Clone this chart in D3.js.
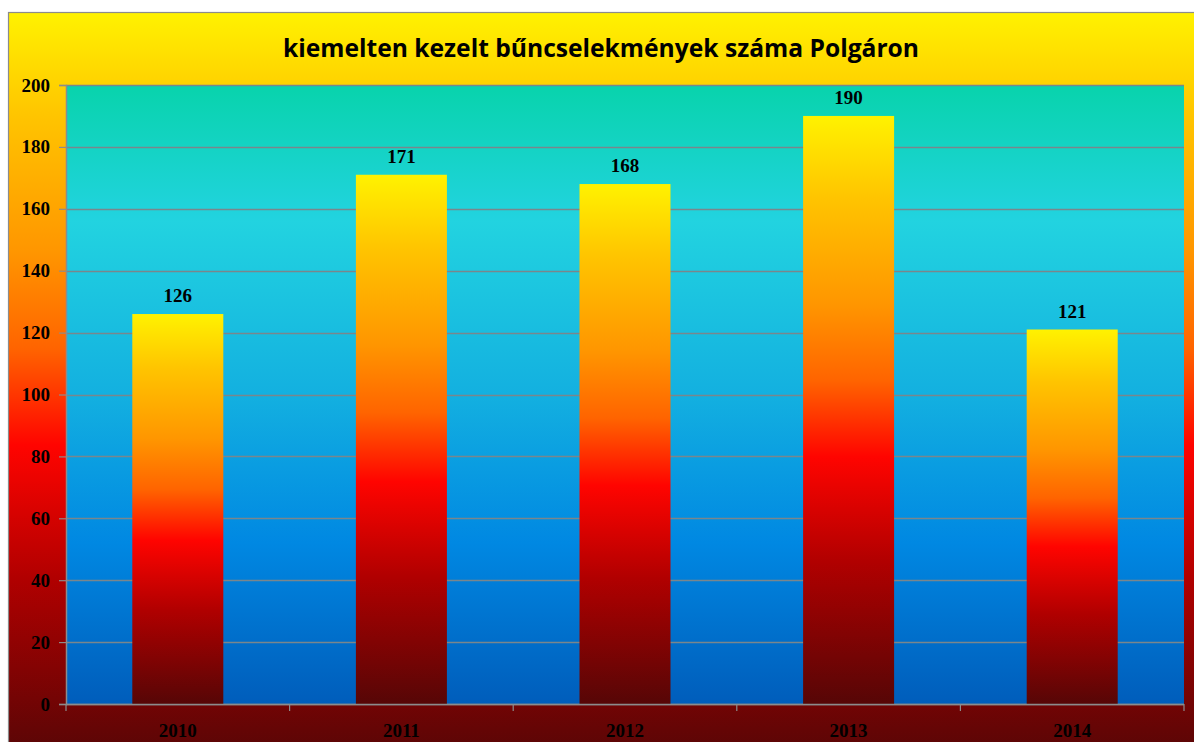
<!DOCTYPE html>
<html>
<head>
<meta charset="utf-8">
<script src="https://cdn.jsdelivr.net/npm/d3@7"></script>
<style>
  body { margin: 0; background: #fff; }
  svg { display: block; }
</style>
</head>
<body>
<div id="chart"></div>
<script>
const years = ["2010", "2011", "2012", "2013", "2014"];
const counts = [126, 171, 168, 190, 121];
const yTicks = [0, 20, 40, 60, 80, 100, 120, 140, 160, 180, 200];
const title = "kiemelten kezelt bűncselekmények száma Polgáron";

const W = 1194, H = 742;
const plot = { left: 66, top: 85, right: 1184, bottom: 704 };
const serif = "'Liberation Serif', 'Times New Roman', serif";

const svg = d3.select("#chart").append("svg")
  .attr("width", W)
  .attr("height", H);

const defs = svg.append("defs");

// fire gradient, used by the chart area and the bars
function fireGradient(id) {
  const g = defs.append("linearGradient")
    .attr("id", id)
    .attr("x1", 0).attr("y1", 0).attr("x2", 0).attr("y2", 1);
  [[0, "#FFF200"], [0.14, "#FFC400"], [0.32, "#FF9600"], [0.45, "#FF6400"],
   [0.58, "#FF0400"], [0.76, "#B00000"], [1, "#560606"]]
    .forEach(s => g.append("stop").attr("offset", s[0]).attr("stop-color", s[1]));
}
fireGradient("fireOuter");
fireGradient("fireBar");

const water = defs.append("linearGradient")
  .attr("id", "water")
  .attr("x1", 0).attr("y1", 0).attr("x2", 0).attr("y2", 1);
[[0, "#08D3AC"], [0.22, "#22D3E0"], [0.5, "#13B0E0"], [0.74, "#0088E2"], [1, "#005DBB"]]
  .forEach(s => water.append("stop").attr("offset", s[0]).attr("stop-color", s[1]));

// chart area
svg.append("rect")
  .attr("x", 8.5).attr("y", 12.5)
  .attr("width", 1220).attr("height", 746)
  .attr("fill", "url(#fireOuter)")
  .attr("stroke", "#8c8c8c")
  .attr("stroke-width", 1.2);

// plot area
svg.append("rect")
  .attr("x", plot.left).attr("y", plot.top)
  .attr("width", plot.right - plot.left)
  .attr("height", plot.bottom - plot.top)
  .attr("fill", "url(#water)");

const x = d3.scaleBand()
  .domain(years)
  .range([plot.left, plot.right])
  .paddingInner(0.593)
  .paddingOuter(0.2965);

const xCat = d3.scaleBand()
  .domain(years)
  .range([plot.left, plot.right]);

const y = d3.scaleLinear()
  .domain([0, 200])
  .range([plot.bottom, plot.top]);

// gridlines
svg.append("g")
  .selectAll("line")
  .data(yTicks)
  .join("line")
  .attr("x1", plot.left).attr("x2", plot.right)
  .attr("y1", d => Math.round(y(d)) + 0.5)
  .attr("y2", d => Math.round(y(d)) + 0.5)
  .attr("stroke", "#7a868c")
  .attr("stroke-width", 1.5);

const rows = years.map((yr, i) => ({ yr, v: counts[i] }));

// bars
svg.append("g")
  .selectAll("rect")
  .data(rows)
  .join("rect")
  .attr("x", d => x(d.yr))
  .attr("y", d => y(d.v))
  .attr("width", x.bandwidth())
  .attr("height", d => y(0) - y(d.v))
  .attr("fill", "url(#fireBar)");

// value labels
svg.append("g")
  .selectAll("text")
  .data(rows)
  .join("text")
  .attr("x", d => x(d.yr) + x.bandwidth() / 2)
  .attr("y", d => y(d.v) - 12)
  .attr("text-anchor", "middle")
  .attr("font-family", serif)
  .attr("font-weight", "bold")
  .attr("font-size", 19)
  .attr("fill", "#000")
  .text(d => d.v);

// y axis
const yAxis = svg.append("g")
  .attr("transform", `translate(${plot.left},0)`)
  .call(d3.axisLeft(y).tickValues(yTicks).tickSize(7).tickPadding(9).tickFormat(d3.format("d")));
yAxis.select(".domain").attr("stroke", "#8c8c8c").attr("stroke-width", 1.5);
yAxis.selectAll(".tick line").attr("stroke", "#8c8c8c").attr("stroke-width", 1.2);
yAxis.selectAll("text")
  .attr("font-family", serif)
  .attr("font-weight", "bold")
  .attr("font-size", 19)
  .attr("fill", "#000");

// x axis: line, category boundary ticks, labels
svg.append("line")
  .attr("x1", plot.left).attr("x2", plot.right)
  .attr("y1", plot.bottom + 0.5).attr("y2", plot.bottom + 0.5)
  .attr("stroke", "#8c8c8c").attr("stroke-width", 1.5);

svg.append("g")
  .selectAll("line")
  .data(years.concat(["end"]))
  .join("line")
  .attr("x1", (d, i) => plot.left + i * xCat.step())
  .attr("x2", (d, i) => plot.left + i * xCat.step())
  .attr("y1", plot.bottom).attr("y2", plot.bottom + 7)
  .attr("stroke", "#8c8c8c").attr("stroke-width", 1.2);

svg.append("g")
  .selectAll("text")
  .data(years)
  .join("text")
  .attr("x", d => xCat(d) + xCat.bandwidth() / 2)
  .attr("y", 737)
  .attr("text-anchor", "middle")
  .attr("font-family", serif)
  .attr("font-weight", "bold")
  .attr("font-size", 19)
  .attr("fill", "#000")
  .text(d => d);

// title
svg.append("text")
  .attr("x", 601)
  .attr("y", 57)
  .attr("text-anchor", "middle")
  .attr("font-family", "'Open Sans', 'Noto Sans', sans-serif")
  .attr("font-weight", "bold")
  .attr("font-size", 25)
  .attr("textLength", 636)
  .attr("lengthAdjust", "spacingAndGlyphs")
  .attr("fill", "#000")
  .text(title);
</script>
</body>
</html>
